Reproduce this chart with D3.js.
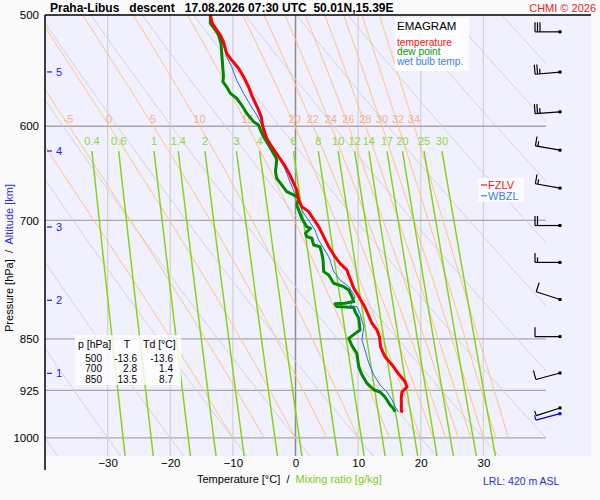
<!DOCTYPE html>
<html>
<head>
<meta charset="utf-8">
<script src="https://cdn.jsdelivr.net/npm/d3@7"></script>
<style>
body { margin: 0; background: #fafafa; }
text { font-family: "Liberation Sans", Arial, sans-serif; }
</style>
</head>
<body>
<svg id="emagram" width="600" height="500"></svg>
<script>
const tempP = [500, 506.8, 516.7, 522.4, 532.4, 538.3, 545.6, 553.2, 562.4, 570.1, 577.9, 584.2, 590.6, 600.4, 611.9,
    620.4, 630.7, 641.1, 649.8, 658.7, 666, 677, 684.5, 690.1, 697.6, 707.3, 719, 730.9, 743, 751.1, 759.3, 769.6,
    782.5, 793.2, 804.2, 813, 828.6, 837.8, 847.2, 861.8, 875.4, 886.8, 899.5, 912, 919.7, 927.4, 935, 947.3, 957, 958]
const tempT = [-13.6, -13.3, -12.0, -11.5, -11.0, -10.2, -9.1, -8.3, -7.5, -7.0, -6.4, -5.9, -5.5, -5.2, -4.6,
    -3.8, -2.7, -1.6, -0.9, -0.3, 0.2, 0.5, 1.0, 2.1, 2.8, 3.7, 4.5, 5.3, 6.3, 7.1, 8.2, 8.7,
    9.3, 10.1, 10.9, 11.4, 12.2, 13.0, 13.4, 13.6, 14.3, 15.4, 16.4, 17.5, 17.8, 17.0, 16.9, 16.9, 16.9, 17.2]

const dewP = [500, 506.8, 512.4, 516.7, 523.7, 538.3, 553.2, 557.7, 562.4, 568.5, 573.1, 579.5, 587.4, 595.5, 598.8,
    603.7, 610.3, 618.7, 630.7, 634.1, 646.4, 653.4, 660.6, 667.9, 671.5, 675.2, 682.7, 688.3, 697.6, 707.3, 709.2,
    715, 719, 720.9, 728.9, 730.9, 738.9, 747, 761.4, 765.6, 776.1, 780.4, 784.6, 793.2, 799.7, 801.8, 802.7, 806.3,
    807.5, 813, 821.9, 837.8, 842.8, 849.5, 859.4, 870.8, 889.9, 901.7, 914.1, 924, 927.4, 935, 947.3, 952.4, 958]
const dewT = [-13.6, -13.6, -12.8, -12.3, -11.9, -11.7, -11.5, -11.6, -11.0, -10.4, -9.4, -8.6, -7.8, -6.7, -5.9,
    -5.6, -5.1, -4.3, -3.2, -3.0, -3.2, -3.0, -2.2, -1.4, -0.3, 0.5, 0.2, 0.5, 1.0, 1.8, 2.4,
    1.6, 1.8, 2.6, 2.9, 3.9, 4.2, 4.4, 4.5, 5.3, 6.1, 7.7, 8.5, 9.0, 9.3, 7.9, 6.3, 6.6,
    9.3, 9.5, 10.1, 10.3, 9.5, 8.5, 9.0, 9.8, 10.1, 10.6, 11.4, 12.5, 13.5, 14.3, 15.1, 15.6, 15.9]

const wetP = [500, 508.3, 519.2, 525.2, 535.4, 544.2, 556.2, 568.5, 579.5, 589, 598.8, 607, 617, 634.1, 644.6,
    657, 669.6, 677, 688.3, 703.4, 711.1, 722.9, 732.9, 743, 747, 761.4, 771.9, 780.4, 793.2, 801.8, 805.4,
    806.3, 815.1, 833.3, 851.8, 865.9, 884.4, 901.7, 916.9, 927.4, 939.5, 949.9, 958]
const wetT = [-13.6, -13.3, -12.0, -11.5, -11.0, -10.2, -9.4, -8.3, -7.2, -6.2, -5.4, -5.1, -4.0, -2.4, -1.6,
    -0.9, -0.1, 0.5, 1.0, 2.4, 3.1, 3.7, 4.5, 5.3, 5.5, 6.1, 7.1, 8.5, 9.5, 9.0, 8.7,
    9.8, 10.3, 10.9, 10.6, 11.1, 11.7, 12.5, 13.5, 14.6, 15.4, 15.9, 16.4]

const barbP = [514, 549, 586, 624, 664, 706, 750, 797, 847, 899, 952]
const barbDir = [270, 265, 266, 280, 280, 270, 270, 288, 270, 255, 252]
const barbKt = [30, 25, 25, 15, 15, 20, 15, 10, 10, 10, 5]
const surfaceBarb = [961, 255, 5]

const pressureTicks = [500, 600, 700, 850, 925, 1000]
const tempTicks = [-30, -20, -10, 0, 10, 20, 30]
const altKm = [1, 2, 3, 4, 5]
const altP = [899.5, 798, 707.7, 624.8, 548.9]

const dryTheta = [-40, -30, -20, -10, 0, 10, 20, 30, 40, 50, 60, 70, 80, 90, 100, 110]
const thetaW = [-10, -5, 0, 5, 10, 15, 20, 22, 24, 26, 28, 30, 32, 34]
const mixRatios = [0.4, 0.6, 1, 1.4, 2, 3, 4, 6, 8, 10, 12, 14, 17, 20, 25, 30]

const tableP = [500, 700, 850]
const tableT = [-13.6, 2.8, 13.5]
const tableTd = [-13.6, 1.4, 8.7]

const levelNames = ['FZLV', 'WBZL']
const levelP = [660.6, 672.4]

function esat(tc) {
    return 6.112 * Math.exp(17.67 * tc / (tc + 243.5))
}

function dewFromE(e) {
    let l = Math.log(e / 6.112)
    return 243.5 * l / (17.67 - l)
}

function moistRate(tk, p) {
    let e = esat(tk - 273.15), rs = 0.622 * e / (p - e)
    return (287.04 * tk + 2.501e6 * rs) / (1005.7 + 2.501e6 * 2.501e6 * rs * 0.622 / (287.04 * tk * tk))
}

function pseudoAdiabat(tw) {
    let pts = [], tk = tw + 273.15, lp = Math.log(1000), h = -0.004
    while (lp >= Math.log(499)) {
        pts.push([Math.exp(lp), tk - 273.15])
        let k1 = moistRate(tk, Math.exp(lp))
        let k2 = moistRate(tk + h * k1 / 2, Math.exp(lp + h / 2))
        tk += h * k2
        lp += h
    }
    return pts
}

function main() {
    let svg = d3.select('#emagram'),
        left = 45, right = 546, top = 15, bottom = 456

    let x = d3.scaleLinear().domain([-40, 40]).range([left, right]),
        y = d3.scaleLog().domain([500, 1030]).range([top, bottom])

    svg.append('rect').attr('x', left).attr('y', top).attr('width', 591 - left).attr('height', bottom - top)
        .attr('fill', '#f0f0ff')

    svg.append('clipPath').attr('id', 'plot-clip')
        .append('rect').attr('x', left).attr('y', top).attr('width', right - left).attr('height', bottom - top)

    let plot = svg.append('g').attr('clip-path', 'url(#plot-clip)')
    let line = d3.line().x(d => x(d[1])).y(d => y(d[0]))

    // isotherms and isobars
    plot.selectAll('.isotherm')
        .data(tempTicks)
        .enter()
        .append('line')
        .attr('x1', d => x(d)).attr('x2', d => x(d))
        .attr('y1', top).attr('y2', bottom)
        .attr('stroke', d => d === 0 ? '#8c8c8c' : '#d2d2d2')
        .attr('stroke-width', d => d === 0 ? 1.5 : 1.2)

    plot.selectAll('.isobar')
        .data(pressureTicks.slice(1))
        .enter()
        .append('line')
        .attr('x1', left).attr('x2', right)
        .attr('y1', d => y(d)).attr('y2', d => y(d))
        .attr('stroke', '#a8a8a8')
        .attr('stroke-width', 1.3)

    let pLevels = d3.range(500, 1031, 5)

    plot.selectAll('.dry')
        .data(dryTheta)
        .enter()
        .append('path')
        .attr('d', th => line(pLevels.map(p => [p, (th + 273.15) * Math.pow(p / 1000, 0.2857) - 273.15])))
        .attr('fill', 'none')
        .attr('stroke', '#d4d4d4')
        .attr('stroke-width', 1)

    let moist = thetaW.map(pseudoAdiabat)
    plot.selectAll('.moist')
        .data(moist)
        .enter()
        .append('path')
        .attr('d', line)
        .attr('fill', 'none')
        .attr('stroke', '#ffc47a')
        .attr('stroke-width', 1)

    let wLevels = d3.range(625, 1031, 5)
    plot.selectAll('.mix')
        .data(mixRatios)
        .enter()
        .append('path')
        .attr('d', w => line(wLevels.map(p => [p, dewFromE(w / 1000 * p / (0.622 + w / 1000))])))
        .attr('fill', 'none')
        .attr('stroke', '#8ad21a')
        .attr('stroke-width', 1.5)

    // line labels
    moist.forEach((pts, i) => {
        let at600 = pts.find(d => d[0] <= 600)
        if (x(at600[1]) < left + 10) return
        svg.append('text')
            .attr('x', x(at600[1]))
            .attr('y', y(600) - 3)
            .attr('text-anchor', 'middle')
            .attr('font-size', 11)
            .attr('fill', '#f6ad92')
            .text(thetaW[i])
    })

    svg.selectAll('.mixlabel')
        .data(mixRatios)
        .enter()
        .append('text')
        .attr('x', w => x(dewFromE(w / 1000 * 625 / (0.622 + w / 1000))))
        .attr('y', y(600) + 19)
        .attr('text-anchor', 'middle')
        .attr('font-size', 11)
        .attr('fill', '#96d43a')
        .text(d => d)

    // legend and table boxes
    let legend = svg.append('g')
    legend.append('rect').attr('x', 395).attr('y', 18).attr('width', 74).attr('height', 53)
        .attr('fill', '#ffffff').attr('opacity', 0.85)
    legend.append('text').attr('x', 397).attr('y', 30).attr('font-size', 11.5).attr('fill', '#000').text('EMAGRAM')
    let legendItems = [['temperature', '#ff1010'], ['dew point', '#119911'], ['wet bulb temp.', '#3a7ff0']]
    legendItems.forEach((d, i) => {
        legend.append('text').attr('x', 397).attr('y', 45.5 + i * 9.7).attr('font-size', 10.2)
            .attr('fill', d[1]).text(d[0])
    })

    let table = svg.append('g')
    table.append('rect').attr('x', 75).attr('y', 335).attr('width', 106).attr('height', 50)
        .attr('fill', '#ffffff').attr('opacity', 0.8)
    table.append('text').attr('x', 78).attr('y', 348).attr('font-size', 10.5).text('p [hPa]')
    table.append('text').attr('x', 127).attr('y', 348).attr('font-size', 10.5).attr('text-anchor', 'middle').text('T')
    table.append('text').attr('x', 143).attr('y', 348).attr('font-size', 10.5).text('Td [°C]')
    tableP.forEach((p, i) => {
        let ty = 362 + i * 10.4
        table.append('text').attr('x', 102).attr('y', ty).attr('font-size', 10).attr('text-anchor', 'end').text(p)
        table.append('text').attr('x', 137).attr('y', ty).attr('font-size', 10).attr('text-anchor', 'end')
            .text(tableT[i].toFixed(1))
        table.append('text').attr('x', 173).attr('y', ty).attr('font-size', 10).attr('text-anchor', 'end')
            .text(tableTd[i].toFixed(1))
    })

    // profiles
    let profiles = [
        [wetP, wetT, '#1a6cff', 1],
        [dewP, dewT, '#008a00', 3],
        [tempP, tempT, '#ff0000', 3]
    ]
    profiles.forEach(pr => {
        svg.append('path')
            .datum(pr[0].map((p, i) => [p, pr[1][i]]))
            .attr('d', line)
            .attr('fill', 'none')
            .attr('stroke', pr[2])
            .attr('stroke-width', pr[3])
            .attr('stroke-linejoin', 'round')
    })

    // freezing level labels
    svg.append('rect').attr('x', 478).attr('y', 178).attr('width', 46).attr('height', 24)
        .attr('fill', '#ffffff').attr('opacity', 0.8)
    let levelColors = ['#ff1010', '#3a7ff0']
    levelNames.forEach((name, i) => {
        svg.append('line').attr('x1', 481).attr('x2', 487).attr('y1', y(levelP[i])).attr('y2', y(levelP[i]))
            .attr('stroke', levelColors[i]).attr('stroke-width', 1.2)
        svg.append('text').attr('x', 488).attr('y', y(levelP[i])).attr('dy', '0.35em')
            .attr('font-size', 11).attr('fill', levelColors[i]).text(name)
    })

    // wind barbs
    function drawBarb(p, dir, kt, color) {
        let px = 560, py = y(p), a = dir * Math.PI / 180
        let sx = Math.sin(a), sy = -Math.cos(a), nx = -sy, ny = sx
        let ex = px + sx * 25, ey = py + sy * 25
        let g = svg.append('g').attr('stroke', color).attr('stroke-width', 1.2).attr('fill', color)
        g.append('line').attr('x1', px).attr('y1', py).attr('x2', ex).attr('y2', ey)
        g.append('rect').attr('x', px - 1.5).attr('y', py - 1.5).attr('width', 3).attr('height', 3).attr('stroke', 'none')
        let full = Math.floor(kt / 10), half = kt % 10 >= 5 ? 1 : 0
        for (let i = 0; i < full + half; i++) {
            let len = i < full ? 9.5 : 5
            let bx = ex - sx * i * 2.5, by = ey - sy * i * 2.5
            g.append('line').attr('x1', bx).attr('y1', by).attr('x2', bx + nx * len).attr('y2', by + ny * len)
        }
    }
    barbP.forEach((p, i) => drawBarb(p, barbDir[i], barbKt[i], '#000'))
    drawBarb(surfaceBarb[0], surfaceBarb[1], surfaceBarb[2], '#0000ee')

    // axes
    svg.append('line').attr('x1', left).attr('x2', 591).attr('y1', top).attr('y2', top)
        .attr('stroke', '#000').attr('stroke-width', 1.5)

    let yAxis = svg.append('g')
        .attr('transform', 'translate(' + left + ', 0)')
        .call(d3.axisLeft(y).tickValues(pressureTicks).tickFormat(d3.format('d')).tickSize(0).tickPadding(6))
    yAxis.select('.domain').remove()
    yAxis.selectAll('text').attr('font-size', 11.5).attr('fill', '#000').attr('font-family', null)
    svg.append('line').attr('x1', left).attr('x2', left).attr('y1', top).attr('y2', 470)
        .attr('stroke', '#000').attr('stroke-width', 1.5)

    let xAxis = svg.append('g')
        .attr('transform', 'translate(0, ' + bottom + ')')
        .call(d3.axisBottom(x).tickValues(tempTicks).tickSize(0).tickPadding(3))
    xAxis.select('.domain').remove()
    xAxis.selectAll('text').attr('font-size', 11.5).attr('fill', '#000').attr('font-family', null)

    altKm.forEach((km, i) => {
        svg.append('line').attr('x1', 47).attr('x2', 52).attr('y1', y(altP[i])).attr('y2', y(altP[i]))
            .attr('stroke', '#1a1aee').attr('stroke-width', 1.2)
        svg.append('text').attr('x', 56).attr('y', y(altP[i])).attr('dy', '0.35em')
            .attr('font-size', 11).attr('fill', '#1a1aee').text(km)
    })

    // titles
    svg.append('text').attr('x', 50).attr('y', 12).attr('font-size', 12).attr('font-weight', 'bold')
        .style('white-space', 'pre')
        .text('Praha-Libus   descent   17.08.2026 07:30 UTC  50.01N,15.39E')
    svg.append('text').attr('x', 596).attr('y', 12).attr('font-size', 11).attr('text-anchor', 'end')
        .attr('fill', '#ee1c1c').text('CHMI © 2026')

    let yTitle = svg.append('text')
        .attr('transform', 'translate(13, 258) rotate(-90)')
        .attr('text-anchor', 'middle')
        .attr('font-size', 11)
        .style('white-space', 'pre')
    yTitle.append('tspan').attr('fill', '#000').text('Pressure [hPa]  /  ')
    yTitle.append('tspan').attr('fill', '#2a2af0').text('Altitude [km]')

    let xTitle = svg.append('text')
        .attr('x', 197).attr('y', 483)
        .attr('font-size', 11)
        .style('white-space', 'pre')
    xTitle.append('tspan').attr('fill', '#000').text('Temperature [°C]  /  ')
    xTitle.append('tspan').attr('fill', '#7ccc22').text('Mixing ratio [g/kg]')

    svg.append('text').attr('x', 483).attr('y', 485).attr('font-size', 10.5)
        .attr('fill', '#2a2ae0').text('LRL: 420 m ASL')
}

main()
</script>
</body>
</html>
